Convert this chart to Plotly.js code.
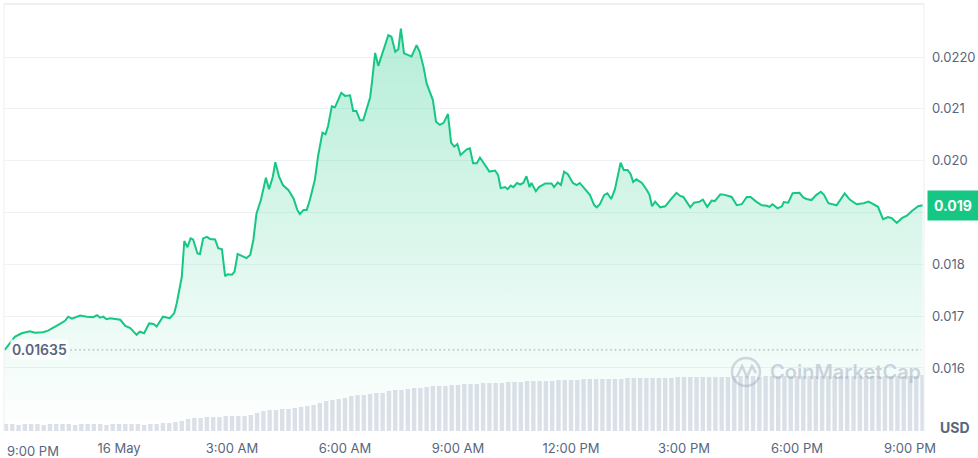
<!DOCTYPE html>
<html>
<head>
<meta charset="utf-8">
<script src="https://cdn.plot.ly/plotly-3.0.1.min.js"></script>
<style>
  html, body { margin: 0; padding: 0; background: #ffffff; }
  #chart { width: 978px; height: 458px; }
</style>
</head>
<body>
<div id="chart"></div>
<script>
// Minutes after 9:00 PM (15 May) for each price sample
const minutes = [
  -2,14,25,38,46,59,67,75,86,94,
  99,105,118,129,139,145,150,155,160,166,
  174,182,190,198,208,213,220,228,235,240,
  250,256,261,268,272,280,284,289,294,298,
  305,309,314,320,325,333,338,344,349,353,
  360,364,369,378,383,389,394,399,406,414,
  419,425,429,435,441,450,458,464,468,474,
  479,484,492,497,504,509,513,519,524,534,
  540,548,553,558,564,569,580,583,588,593,
  601,609,614,620,625,629,634,642,646,650,
  654,659,665,670,680,685,691,697,704,709,
  714,719,724,734,739,744,750,755,763,770,
  779,784,788,795,799,804,808,814,819,824,
  829,834,837,844,849,859,869,873,879,884,
  889,895,903,909,914,922,930,937,941,946,
  953,958,964,970,974,979,984,990,995,999,
  1004,1013,1021,1025,1029,1034,1042,1050,1058,1068,
  1074,1079,1084,1090,1096,1105,1110,1117,1124,1129,
  1138,1145,1156,1164,1172,1180,1186,1195,1204,1212,
  1216,1221,1229,1236,1239,1246,1253,1264,1270,1275,
  1283,1291,1298,1303,1310,1323,1336,1344,1355,1366,
  1374,1381,1389,1397,1405,1411,1419,1427,1435,1443,
  1453,1460
];

// Price in USD
const prices = [
  0.01635,0.01660,0.01667,0.01671,0.01668,0.01669,0.01672,0.01677,0.01685,0.01691,
  0.01699,0.01695,0.01701,0.01699,0.01698,0.01702,0.01697,0.01699,0.01694,0.01696,
  0.01694,0.01693,0.01681,0.01677,0.01664,0.01670,0.01667,0.01686,0.01685,0.01680,
  0.01699,0.01698,0.01696,0.01706,0.01725,0.01776,0.01845,0.01833,0.01850,0.01848,
  0.01821,0.01820,0.01850,0.01853,0.01849,0.01848,0.01831,0.01829,0.01777,0.01781,
  0.01780,0.01786,0.01820,0.01815,0.01812,0.01818,0.01847,0.01898,0.01924,0.01967,
  0.01945,0.01969,0.01997,0.01969,0.01953,0.01943,0.01927,0.01905,0.01897,0.01905,
  0.01905,0.01924,0.01963,0.02008,0.02054,0.02051,0.02067,0.02105,0.02103,0.02131,
  0.02125,0.02126,0.02096,0.02096,0.02078,0.02078,0.02122,0.02152,0.02208,0.02183,
  0.02213,0.02242,0.02239,0.02210,0.02215,0.02255,0.02207,0.02202,0.02201,0.02212,
  0.02223,0.02210,0.02181,0.02149,0.02117,0.02075,0.02069,0.02073,0.02090,0.02035,
  0.02027,0.02032,0.02011,0.02022,0.02024,0.01995,0.01995,0.02006,0.01992,0.01979,
  0.01981,0.01972,0.01947,0.01949,0.01945,0.01952,0.01949,0.01957,0.01954,0.01957,
  0.01970,0.01949,0.01957,0.01941,0.01949,0.01956,0.01956,0.01949,0.01958,0.01953,
  0.01979,0.01974,0.01957,0.01953,0.01957,0.01945,0.01934,0.01914,0.01910,0.01916,
  0.01934,0.01937,0.01926,0.01945,0.01969,0.01996,0.01982,0.01982,0.01974,0.01959,
  0.01964,0.01957,0.01943,0.01934,0.01912,0.01921,0.01910,0.01912,0.01924,0.01938,
  0.01932,0.01930,0.01921,0.01910,0.01919,0.01921,0.01925,0.01911,0.01923,0.01922,
  0.01935,0.01934,0.01930,0.01914,0.01916,0.01930,0.01930,0.01921,0.01914,0.01913,
  0.01911,0.01916,0.01908,0.01912,0.01920,0.01919,0.01937,0.01938,0.01929,0.01926,
  0.01924,0.01934,0.01940,0.01934,0.01918,0.01914,0.01937,0.01925,0.01916,0.01918,
  0.01921,0.01916,0.01911,0.01887,0.01891,0.01889,0.01880,0.01889,0.01894,0.01903,
  0.01912,0.01914
];

// Volume bars every 10 minutes from 9:00 PM (relative units)
const volumeStepMinutes = 10;
const volumes = [
  0.7,0.7,0.6,0.7,0.7,0.7,0.6,0.7,0.7,0.7,0.7,0.6,0.7,0.7,0.7,0.7,0.6,0.7,0.7,0.7,0.7,0.7,0.6,0.7,0.7,0.8,0.8,0.9,
  1.0,1.2,1.3,1.3,1.4,1.4,1.4,1.5,1.5,1.5,1.5,1.6,
  1.8,2.0,2.1,2.1,2.2,2.2,2.3,
  2.4,2.5,2.6,2.8,3.0,3.1,3.2,3.3,
  3.5,3.6,3.6,3.7,3.8,3.8,
  4.0,4.1,4.1,4.2,4.3,4.3,
  4.4,4.5,4.5,4.5,4.6,4.6,
  4.7,4.7,4.7,4.8,4.8,4.8,4.8,4.9,
  4.9,4.9,5.0,5.0,5.0,5.0,5.0,5.1,5.1,5.1,
  5.1,5.2,5.2,5.2,5.2,5.2,5.2,5.2,5.3,5.3,
  5.3,5.3,5.3,5.3,5.3,5.3,5.4,5.4,5.4,5.4,
  5.4,5.4,5.4,5.4,5.4,5.5,5.5,5.5,5.5,5.4,5.5,5.5,5.5,5.5,5.5,5.5,5.5,5.5,
  5.5,5.5,5.5,5.5,5.5,5.5,5.5,5.5,5.5,5.5,5.5,5.5,5.5,5.5,5.5,5.5,5.5,5.6
];
const volumeTimes = volumes.map((v, i) => i * volumeStepMinutes);

// Axis ticks
const xTickVals = [180, 360, 540, 720, 900, 1080, 1260, 1440];
const xTickText = ['16 May', '3:00 AM', '6:00 AM', '9:00 AM', '12:00 PM', '3:00 PM', '6:00 PM', '9:00 PM'];
const firstXLabel = '9:00 PM';
const yTickVals = [0.016, 0.017, 0.018, 0.019, 0.020, 0.021, 0.022];
// the 0.019 level is shown by the current-price badge instead of a tick label
const yTickText = ['0.016', '0.017', '0.018', '', '0.020', '0.021', '0.0220'];

const GREEN = '#16c784';
const TXT = '#58667e';
const GRID = '#eff2f5';

const openPrice = prices[0];
const lastPrice = prices[prices.length - 1];

const traces = [
  {
    type: 'bar',
    x: volumeTimes,
    y: volumes,
    yaxis: 'y2',
    marker: { color: 'rgba(196,203,216,0.6)', line: { width: 0 } },
    hoverinfo: 'skip'
  },
  {
    type: 'scatter',
    mode: 'lines',
    x: minutes,
    y: prices,
    line: { color: GREEN, width: 2 },
    fill: 'tozeroy',
    fillgradient: {
      type: 'vertical',
      start: 0.0148,
      stop: 0.0226,
      colorscale: [[0, 'rgba(22,199,132,0.0)'], [1, 'rgba(22,199,132,0.32)']]
    },
    hoverinfo: 'skip'
  }
];

const layout = {
  width: 978,
  height: 458,
  margin: { l: 4, r: 54, t: 4, b: 27 },
  paper_bgcolor: '#ffffff',
  plot_bgcolor: '#ffffff',
  showlegend: false,
  hovermode: false,
  bargap: 0.3,
  font: { family: 'Inter, sans-serif', color: TXT, size: 13 },
  xaxis: {
    range: [-3.2, 1462.3],
    tickmode: 'array',
    tickvals: xTickVals,
    ticktext: xTickText,
    showgrid: false,
    zeroline: false,
    showline: false,
    ticks: '',
    ticklabelstandoff: 8,
    tickfont: { size: 13, color: TXT }
  },
  yaxis: {
    side: 'right',
    range: [0.014784, 0.023023],
    tickmode: 'array',
    tickvals: yTickVals,
    ticktext: yTickText,
    showgrid: true,
    gridcolor: GRID,
    gridwidth: 1,
    zeroline: false,
    showline: false,
    ticks: '',
    ticklabelstandoff: 7,
    tickfont: { size: 13, color: TXT }
  },
  yaxis2: {
    overlaying: 'y',
    range: [0, 42.7],
    visible: false,
    showgrid: false,
    zeroline: false
  },
  shapes: [
    // open-price reference dotted line
    { type: 'line', xref: 'paper', yref: 'y', x0: 0.072, x1: 0.997, y0: openPrice, y1: openPrice,
      line: { color: '#a6adbd', width: 1.2, dash: '1.5px,3px' }, layer: 'above' },
    // frame
    { type: 'line', xref: 'paper', yref: 'paper', x0: 0, x1: 1, y0: 1, y1: 1, line: { color: '#e9ebee', width: 1.5 } },
    { type: 'line', xref: 'paper', yref: 'paper', x0: 0, x1: 0, y0: 0, y1: 1, line: { color: '#eceef1', width: 1 } },
    { type: 'line', xref: 'paper', yref: 'paper', x0: 1, x1: 1, y0: 0, y1: 1, line: { color: '#eceef1', width: 1 } },
    // watermark logo
    { type: 'circle', xref: 'paper', yref: 'paper', x0: 0.7913, x1: 0.8217, y0: 0.1054, y1: 0.171,
      line: { color: 'rgba(160,170,188,0.45)', width: 2.5 }, layer: 'above' },
    { type: 'path', xref: 'paper', yref: 'paper',
      path: 'M0.7967,0.1265 L0.8022,0.1522 L0.8076,0.1265 L0.8130,0.1522 L0.8174,0.1358',
      line: { color: 'rgba(160,170,188,0.45)', width: 2.5 }, layer: 'above' }
  ],
  annotations: [
    { xref: 'paper', yref: 'paper', x: 0.002, y: -0.046, xanchor: 'left', yanchor: 'middle',
      text: firstXLabel, showarrow: false, borderpad: 0, font: { size: 13, color: TXT } },
    { xref: 'paper', yref: 'y', x: 0.006, y: openPrice, xanchor: 'left', yanchor: 'middle',
      text: openPrice.toFixed(5), showarrow: false, bgcolor: 'rgba(255,255,255,0.85)', borderpad: 1,
      font: { size: 14, color: TXT, weight: 600 } },
    { xref: 'paper', yref: 'y', x: 1, xshift: 3, y: lastPrice, xanchor: 'left', yanchor: 'middle',
      text: lastPrice.toFixed(3), showarrow: false, bgcolor: GREEN, borderpad: 6,
      font: { size: 14, color: '#ffffff', weight: 700 } },
    { xref: 'paper', yref: 'paper', x: 1, xshift: 14, y: 0.008, xanchor: 'left', yanchor: 'middle',
      text: 'USD', showarrow: false, font: { size: 14, color: TXT, weight: 700 } },
    { xref: 'paper', yref: 'paper', x: 0.830, y: 0.138, xanchor: 'left', yanchor: 'middle',
      text: 'CoinMarketCap', showarrow: false, font: { size: 20, color: 'rgba(160,170,188,0.5)', weight: 600 } }
  ]
};

Plotly.newPlot('chart', traces, layout, { staticPlot: true, displayModeBar: false });
</script>
</body>
</html>
